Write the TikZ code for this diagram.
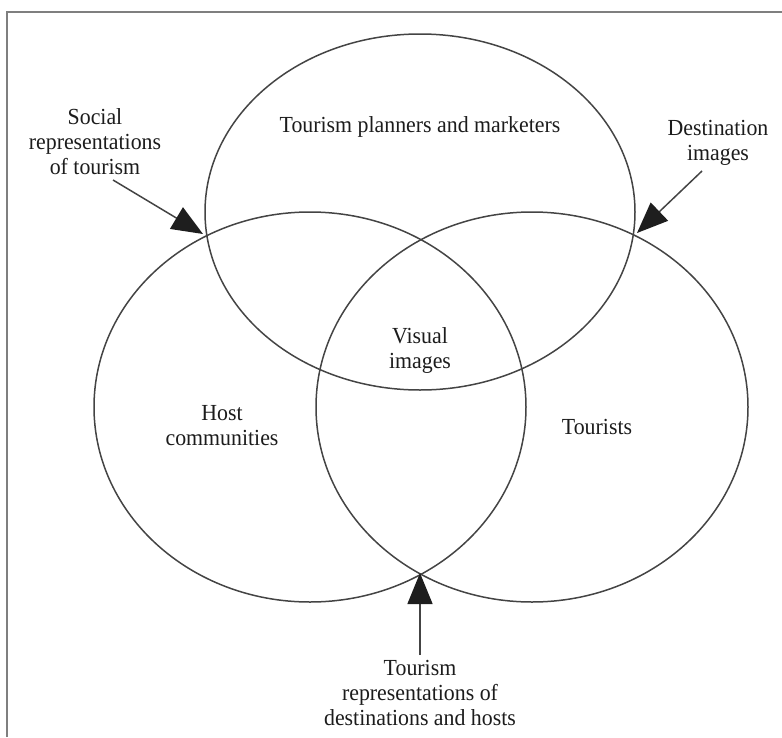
\documentclass[tikz,border=0pt]{standalone}
\usepackage{fontspec}
\setmainfont{Liberation Serif}[FakeStretch=0.95]
\usetikzlibrary{arrows.meta}
\definecolor{inkline}{HTML}{444444}
\definecolor{framegray}{HTML}{7F7F7F}
\definecolor{inktext}{HTML}{1C1C1C}
\definecolor{headfill}{HTML}{1E1E1E}
\begin{document}
\begin{tikzpicture}[x=1pt,y=-1pt,
  labeltext/.style={font=\fontsize{23}{25}\selectfont, text=inktext, align=center, inner sep=0pt},
  venn/.style={draw=inkline, line width=1.5pt},
  pointer/.style={draw=inkline, line width=1.5pt,
    -{Triangle[length=31pt,width=25pt,color=headfill]}}
]
\useasboundingbox (0,0) rectangle (782,737);

% open frame: left and top edges only
\draw[framegray, line width=2pt] (7,737) -- (7,12) -- (782,12);

% the three overlapping sets
\coordinate (ctop)   at (420,212);
\coordinate (cleft)  at (310,407);
\coordinate (cright) at (532,407);
\draw[venn] (ctop)   ellipse [x radius=215, y radius=178];
\draw[venn] (cleft)  ellipse [x radius=216, y radius=195];
\draw[venn] (cright) ellipse [x radius=216, y radius=195];

% set labels
\node[labeltext] (planners) at (420,127) {Tourism planners and marketers};
\node[labeltext] (visual)   at (420,350) {Visual\\images};
\node[labeltext] (hosts)    at (222,426) {Host\\communities};
\node[labeltext] (tourists) at (597,427) {Tourists};

% outer labels
\node[labeltext] (social) at (95,142) {Social\\representations\\of tourism};
\node[labeltext] (dest)   at (718,143) {Destination\\images};
\node[labeltext] (trep)   at (420,693) {Tourism\\representations of\\destinations and hosts};

% pointers onto the intersection points
\coordinate (socialfrom) at (113,180);
\coordinate (socialto)   at (203,234);
\coordinate (destfrom)   at (702,171);
\coordinate (destto)     at (637,233);
\coordinate (trepfrom)   at (420,655);
\coordinate (trepto)     at (420,573);
\draw[pointer] (socialfrom) -- (socialto);
\draw[pointer] (destfrom) -- (destto);
\draw[pointer] (trepfrom) -- (trepto);
\end{tikzpicture}
\end{document}
